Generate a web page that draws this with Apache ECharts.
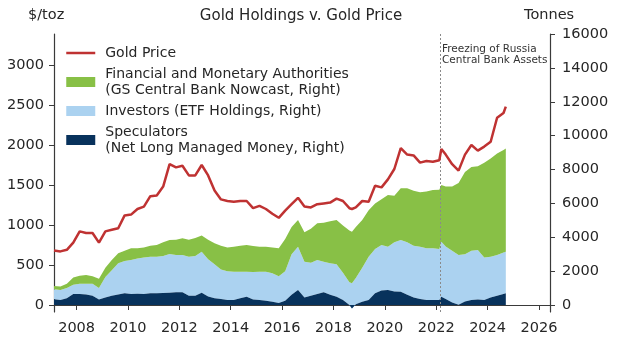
<!DOCTYPE html>
<html><head><meta charset="utf-8">
<script src="https://cdn.jsdelivr.net/npm/echarts@6/dist/echarts.min.js"></script>
<style>html,body{margin:0;padding:0;background:#fff}#c{width:638px;height:356px}</style>
</head><body><div id="c"></div>
<script>
const years = [2007.12,2007.37,2007.62,2007.87, 2008.12,2008.37,2008.62,2008.87, 2009.12,2009.37,2009.62,2009.87, 2010.12,2010.37,2010.62,2010.87, 2011.12,2011.37,2011.62,2011.87, 2012.12,2012.37,2012.62,2012.87, 2013.12,2013.37,2013.62,2013.87, 2014.12,2014.37,2014.62,2014.87, 2015.12,2015.37,2015.62,2015.87, 2016.12,2016.37,2016.62,2016.87, 2017.12,2017.37,2017.62,2017.87, 2018.12,2018.37,2018.62,2018.72,2018.87, 2019.12,2019.37,2019.62,2019.87, 2020.12,2020.37,2020.62,2020.87, 2021.12,2021.37,2021.62,2021.87, 2022.12,2022.2,2022.37,2022.62,2022.87, 2023.12,2023.37,2023.62,2023.87, 2024.12,2024.37,2024.62,2024.71];
const goldPrice = [680,670,690,780, 920,900,900,780, 920,940,960,1120, 1130,1200,1230,1360, 1370,1480,1760,1720, 1740,1620,1620,1750, 1620,1430,1320,1300, 1290,1300,1300,1210, 1240,1200,1140,1090, 1180,1260,1340,1230, 1220,1260,1270,1280, 1330,1300,1210,1200,1220, 1300,1290,1490,1470, 1570,1700,1960,1880, 1870,1780,1800,1790, 1810,1950,1880,1760,1680, 1880,2000,1930,1980, 2040,2340,2400,2480];
const speculators = [335,300,400,650, 650,620,550,320, 450,550,620,690, 650,660,650,690, 690,710,725,760, 750,550,550,725, 500,395,350,300, 300,400,480,330, 295,250,195,120, 250,600,885,450, 550,650,750,600, 490,300,0,-200,50, 195,290,700,850, 885,790,780,600, 450,350,300,295, 300,490,350,150,20, 200,300,330,300, 450,550,650,690];
const investors = [590,590,600,550, 600,630,700,680, 1200,1500,1840,1910, 2005,2090,2150,2160, 2160,2190,2285,2190, 2200,2300,2350,2420, 2200,2005,1750,1690, 1665,1565,1485,1620, 1670,1715,1685,1580, 1750,2400,2555,2100, 1950,2005,1800,1860, 1910,1600,1350,1480,1550, 2005,2560,2600,2690, 2555,2910,3055,3100, 3050,3090,3050,3050, 3000,3245,3100,3050,2930, 2800,2900,2915,2500, 2400,2400,2450,2455];
const authorities = [195,200,250,420, 470,520,450,550, 550,600,590,600, 695,600,600,650, 700,800,825,900, 985,1000,1050,955, 1150,1240,1400,1410, 1475,1535,1575,1530, 1475,1475,1520,1645, 1900,1600,1575,1750, 2000,2165,2300,2490, 2615,2800,3050,3045,3000, 2815,2750,2700,2710, 3060,2750,3065,3200, 3250,3210,3350,3440, 3500,3345,3550,3800,4250, 4850,4950,4950,5600, 5805,6000,6050,6100];
const xTicks = [2008,2010,2012,2014,2016,2018,2020,2022,2024,2026];
const leftTicks = [0,500,1000,1500,2000,2500,3000];
const rightTicks = [0,2000,4000,6000,8000,10000,12000,14000,16000];
const eventYear = 2022.17;

const nPrice = 'Gold Price';
const nAuth = 'Financial and Monetary Authorities\n(GS Central Bank Nowcast, Right)';
const nInv = 'Investors (ETF Holdings, Right)';
const nSpec = 'Speculators\n(Net Long Managed Money, Right)';

const cRed = '#bf3232', cGreen = '#88c046', cLight = '#abd2f0', cDark = '#08325c';
const txt = '#262626', axisC = '#3a3a3a';
const F = 'DejaVu Sans';

const chart = echarts.init(document.getElementById('c'), null, {renderer: 'canvas'});

// value first, year second, so the stack is applied to the value dimension
const areaSeries = (name, arr, color, z) => ({
  name, type: 'line', yAxisIndex: 1, stack: 'hold', stackStrategy: 'all',
  encode: {x: 1, y: 0},
  data: years.map((y, i) => [arr[i], y]), symbol: 'none', z,
  lineStyle: {width: 0, color}, itemStyle: {color},
  areaStyle: {color, opacity: 1}, emphasis: {disabled: true}
});

chart.setOption({
  animation: false,
  textStyle: {fontFamily: F},
  grid: {left: 54, right: 88, top: 34, bottom: 44, containLabel: false},
  legend: {
    orient: 'vertical', left: 65, top: 45, padding: 0, itemGap: 5,
    itemWidth: 29, itemHeight: 10,
    textStyle: {fontFamily: F, fontSize: 14, color: txt, lineHeight: 16, padding: [0,0,0,5]},
    data: [
      {name: nPrice, itemStyle: {color: 'rgba(0,0,0,0)', borderWidth: 0}, lineStyle: {color: cRed, width: 2.5}},
      {name: nAuth, icon: 'rect'},
      {name: nInv, icon: 'rect'},
      {name: nSpec, icon: 'rect'}
    ],
    selectedMode: false
  },
  xAxis: {
    type: 'value', min: 2007.12, max: 2026.43,
    axisLine: {show: true, lineStyle: {color: axisC, width: 1.2}},
    axisTick: {show: true, length: 5, lineStyle: {color: axisC}, customValues: xTicks},
    axisLabel: {fontFamily: F, fontSize: 14.5, color: txt, margin: 9, customValues: xTicks, formatter: v => String(v)},
    splitLine: {show: false}
  },
  yAxis: [
    {
      type: 'value', position: 'left', min: -87.5, max: 3387.5,
      axisLine: {show: true, lineStyle: {color: axisC, width: 1.2}},
      axisTick: {show: true, length: 5, lineStyle: {color: axisC}, customValues: leftTicks},
      axisLabel: {fontFamily: F, fontSize: 14.5, color: txt, margin: 10, customValues: leftTicks, formatter: v => String(v)},
      splitLine: {show: false}
    },
    {
      type: 'value', position: 'right', min: -413, max: 16000,
      axisLine: {show: true, lineStyle: {color: axisC, width: 1.2}},
      axisTick: {show: true, length: 5, lineStyle: {color: axisC}, customValues: rightTicks},
      axisLabel: {fontFamily: F, fontSize: 14.5, color: txt, margin: 12, customValues: rightTicks, formatter: v => String(v)},
      splitLine: {show: false}
    }
  ],
  series: [
    areaSeries(nSpec, speculators, cDark, 3),
    areaSeries(nInv, investors, cLight, 2),
    areaSeries(nAuth, authorities, cGreen, 2),
    {
      name: nPrice, type: 'line', yAxisIndex: 0, data: years.map((y, i) => [y, goldPrice[i]]),
      symbol: 'none', z: 5, lineStyle: {color: cRed, width: 2.5}, itemStyle: {color: cRed},
      emphasis: {disabled: true},
      markLine: {
        silent: true, symbol: 'none', label: {show: false},
        lineStyle: {color: '#8a8a8a', type: [2, 2], width: 1},
        data: [{xAxis: eventYear}]
      }
    }
  ],
  graphic: [
    {type: 'text', left: 28, top: 8, style: {text: '$/toz', font: '14.5px "DejaVu Sans"', fill: txt}},
    {type: 'text', x: 301, y: 16, style: {text: 'Gold Holdings v. Gold Price', font: '15px "DejaVu Sans"', fill: txt, align: 'center', verticalAlign: 'middle'}},
    {type: 'text', left: 524, top: 8, style: {text: 'Tonnes', font: '14.5px "DejaVu Sans"', fill: txt}},
    {type: 'text', left: 442, top: 44, style: {text: 'Freezing of Russia\nCentral Bank Assets', font: '10.5px "DejaVu Sans"', lineHeight: 11, fill: '#333'}}
  ]
});
</script>
</body></html>
